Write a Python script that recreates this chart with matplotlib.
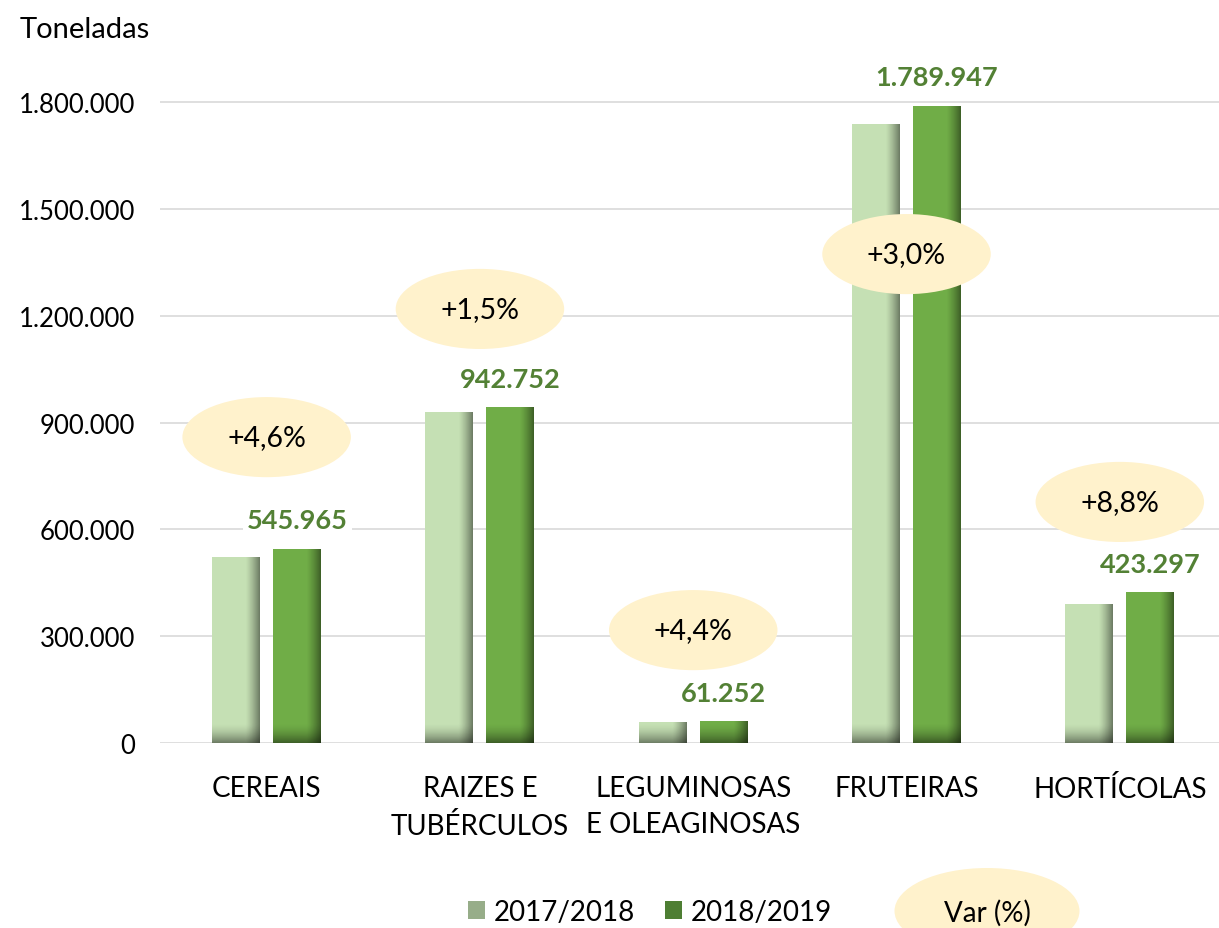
import numpy as np
import matplotlib
matplotlib.use("Agg")
import matplotlib.pyplot as plt
from matplotlib.patches import Ellipse, Patch
from matplotlib.ticker import FuncFormatter

plt.rcParams['font.family'] = ['Lato', 'DejaVu Sans']

categorias = ["CEREAIS", "RAIZES E\nTUBÉRCULOS", "LEGUMINOSAS\nE OLEAGINOSAS", "FRUTEIRAS", "HORTÍCOLAS"]
prod_2017 = [522000, 928800, 58700, 1737800, 389100]
prod_2018 = [545965, 942752, 61252, 1789947, 423297]
variacao = ["+4,6%", "+1,5%", "+4,4%", "+3,0%", "+8,8%"]
# altura das elipses de variação (toneladas)
var_y = [859000, 1219000, 317000, 1373000, 677000]

cor_clara = "#C5E0B4"
cor_escura = "#70AD47"
cor_rotulo = "#538135"
cor_elipse = "#FFF2CC"

fig = plt.figure(figsize=(12.19, 9.29), dpi=100)
ax = fig.add_axes([160 / 1219, 185 / 929, 1059 / 1219, 673 / 929])

x = np.arange(len(categorias))
w = 0.225
b1 = ax.bar(x - 0.143, prod_2017, w, color=cor_clara, zorder=2)
b2 = ax.bar(x + 0.143, prod_2018, w, color=cor_escura, zorder=2)

# sombreado na borda direita e na base de cada barra
faixa = 55000
for p in list(b1) + list(b2):
    x0, larg, alt = p.get_x(), p.get_width(), p.get_height()
    u = np.linspace(0, 1, 80)
    v = np.linspace(0, alt, 400)
    ah = np.clip((u - 0.70) / 0.30, 0, 1) ** 1.3 * 0.45
    av = np.clip(1 - v / faixa, 0, 1) ** 1.6 * 0.45
    a = 1 - (1 - ah[None, :]) * (1 - av[:, None])
    img = np.zeros((len(v), len(u), 4))
    img[..., 3] = a
    im = ax.imshow(img, extent=[x0, x0 + larg, 0, alt], origin='lower',
                   aspect='auto', interpolation='bilinear', zorder=2.5)
    im.set_clip_path(p)

for xi, val in zip(x, prod_2018):
    ax.text(xi + 0.143, val + 80000, f"{val:,}".replace(",", "."), ha='center', va='center',
            fontsize=19.5, fontweight='bold', color=cor_rotulo, zorder=4,
            bbox=dict(boxstyle='square,pad=0.15', fc='white', ec='none'))

for xi, yv, txt in zip(x, var_y, variacao):
    ax.add_patch(Ellipse((xi, yv), 0.79, 225000, fc=cor_elipse, ec='none', zorder=3))
    ax.text(xi, yv, txt, ha='center', va='center', fontsize=20.5, zorder=4)

ax.set_xlim(-0.5, 4.465)
ax.set_ylim(0, 1890000)
ax.set_yticks(np.arange(0, 1800001, 300000))
ax.yaxis.set_major_formatter(FuncFormatter(lambda v, _: f"{int(v):,}".replace(",", ".")))
ax.set_xticks(x)
ax.set_xticklabels(categorias, linespacing=1.5)
ax.tick_params(axis='both', length=0)
ax.tick_params(axis='y', pad=18, labelsize=18.5)
ax.tick_params(axis='x', pad=23, labelsize=20)
ax.grid(axis='y', color='#D9D9D9', lw=1.2, zorder=0)
ax.set_axisbelow(True)
for s in ax.spines.values():
    s.set_visible(False)

fig.text(20 / 1219, 1 - 30 / 929, "Toneladas", fontsize=21, va='center', ha='left')

handles = [Patch(fc="#97AD89", ec='none'), Patch(fc="#4E7E33", ec='none')]
fig.legend(handles, ["2017/2018", "2018/2019"], loc='center', ncol=2, frameon=False,
           bbox_to_anchor=(650 / 1219, 16 / 929), fontsize=20, handlelength=0.6,
           handleheight=0.6, handletextpad=0.3, columnspacing=1.1)

fig.add_artist(Ellipse((987 / 1219, 17 / 929), 185 / 1219, 86 / 929,
                       transform=fig.transFigure, fc=cor_elipse, ec='none'))
fig.text(987 / 1219, 16 / 929, "Var (%)", fontsize=20, ha='center', va='center')

fig.savefig("out.png", dpi=100)
